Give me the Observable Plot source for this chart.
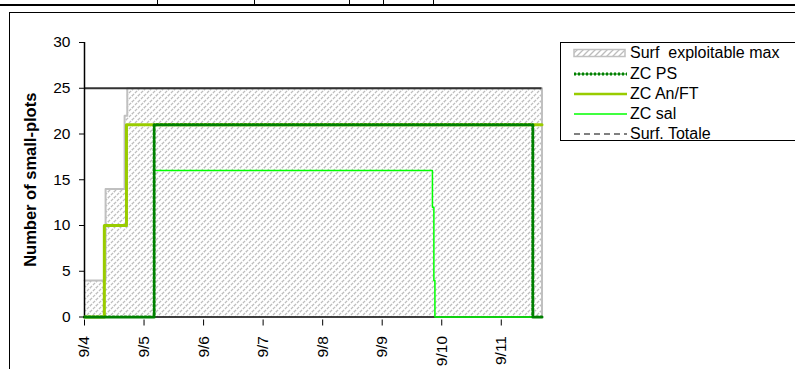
<!DOCTYPE html>
<html>
<head>
<meta charset="utf-8">
<script src="https://cdn.jsdelivr.net/npm/d3@7"></script>
<script src="https://cdn.jsdelivr.net/npm/@observablehq/plot@0.6"></script>
<style>
  html, body { margin: 0; padding: 0; background: #fff; overflow: hidden; }
  #wrap { position: relative; width: 795px; height: 369px; font-family: "Liberation Sans", Arial, sans-serif; }
  #chart { position: absolute; left: 0; top: 0; }
  .deco { position: absolute; background: #000; }
  #box { position: absolute; left: 9px; top: 12px; width: 800px; height: 400px; border-left: 1px solid #000; border-top: 1px solid #000; }
  #legend { position: absolute; left: 560px; top: 42px; width: 260px; height: 97px; border: 1px solid #000; background: #fff; }
  .row { position: absolute; left: 12px; height: 20px; display: flex; align-items: center; font-size: 16px; color: #000; white-space: pre; }
  .row svg { margin-right: 3px; }
</style>
</head>
<body>
<div id="wrap">
  <div class="deco" style="left:0;top:4px;width:795px;height:2px"></div>
  <div class="deco" style="left:157px;top:0;width:1px;height:5px"></div>
  <div class="deco" style="left:254px;top:0;width:1px;height:5px"></div>
  <div class="deco" style="left:349px;top:0;width:1px;height:5px"></div>
  <div class="deco" style="left:383px;top:0;width:1px;height:5px"></div>
  <div class="deco" style="left:433px;top:0;width:1px;height:5px"></div>
  <div id="box"></div>
  <div id="chart"></div>
  <div id="legend"></div>
</div>
<script>
// ---- data ----
const xStart = "2008-09-04T00:00";
const xEnd = "2008-09-11T16:25";
const tickDates = ["2008-09-04", "2008-09-05", "2008-09-06", "2008-09-07", "2008-09-08", "2008-09-09", "2008-09-10", "2008-09-11"];
const yTicks = [0, 5, 10, 15, 20, 25, 30];

const surfMaxTimes  = ["2008-09-04T00:00", "2008-09-04T08:30", "2008-09-04T16:10", "2008-09-04T17:15", "2008-09-11T16:25"];
const surfMaxValues = [4, 14, 22, 25, 25];

const psTimes  = ["2008-09-04T00:00", "2008-09-05T04:05", "2008-09-11T12:43", "2008-09-11T16:25"];
const psValues = [0, 21, 0, 0];

const anftTimes  = ["2008-09-04T00:00", "2008-09-04T08:00", "2008-09-04T16:55", "2008-09-11T16:25"];
const anftValues = [0, 10, 21, 21];

const salTimes  = ["2008-09-04T00:00", "2008-09-05T04:05", "2008-09-09T20:15", "2008-09-09T20:50", "2008-09-09T21:15", "2008-09-11T12:43"];
const salValues = [0, 16, 12, 4, 0, 0];

const surfTotale = 25;

const seriesNames = ["Surf  exploitable max", "ZC PS", "ZC An/FT", "ZC sal", "Surf. Totale"];
const yLabel = "Number of small-plots";

// ---- build ----
const parse = s => new Date(s + (s.length === 10 ? "T00:00Z" : ":00Z"));
const rows = (ts, vs) => ts.map((t, i) => ({t: parse(t), v: vs[i]}));

const surf = rows(surfMaxTimes, surfMaxValues);
const surfOutline = surf.concat([{t: parse(xEnd), v: 0}]);
const ps = rows(psTimes, psValues);
const anft = rows(anftTimes, anftValues);
const sal = rows(salTimes, salValues);

const chart = Plot.plot({
  width: 795,
  height: 369,
  marginLeft: 84,
  marginRight: 253.5,
  marginTop: 42,
  marginBottom: 52.5,
  style: {fontFamily: "'Liberation Sans', Arial, sans-serif", fontSize: "15.5px", color: "#000", background: "transparent", overflow: "visible"},
  x: {type: "utc", domain: [parse(xStart), parse(xEnd)]},
  y: {domain: [0, 30]},
  marks: [
    Plot.areaY(surf, {x: "t", y: "v", curve: "step-after", fill: "url(#hatch)"}),
    Plot.lineY(surfOutline, {x: "t", y: "v", curve: "step-after", stroke: "#c0c0c0", strokeWidth: 2}),
    Plot.ruleY([surfTotale], {stroke: "#333", strokeWidth: 2}),
    Plot.ruleY([0], {stroke: "#000", strokeWidth: 1.5}),
    Plot.ruleX([parse(xStart)], {y1: 0, y2: 30, stroke: "#000", strokeWidth: 1.5}),
    Plot.lineY(anft, {x: "t", y: "v", curve: "step-after", stroke: "#99cc00", strokeWidth: 3}),
    Plot.lineY(sal, {x: "t", y: "v", curve: "step-after", stroke: "#00ff00", strokeWidth: 1.5}),
    Plot.lineY(ps, {x: "t", y: "v", curve: "step-after", stroke: "#008000", strokeWidth: 1.2}),
    Plot.lineY(ps, {x: "t", y: "v", curve: "step-after", stroke: "#008000", strokeWidth: 3, strokeDasharray: "2,2"}),
    Plot.axisY({ticks: yTicks, tickSize: 5, tickPadding: 9, label: null, stroke: "#000"}),
    Plot.axisX({ticks: tickDates.map(parse), tickFormat: d3.utcFormat("%-m/%-d"), tickRotate: -90, tickSize: 6, tickPadding: 10, label: null, stroke: "#000", dy: 3}),
    Plot.text([yLabel], {text: d => d, frameAnchor: "left", textAnchor: "middle", dx: -54, dy: 0, rotate: -90, fontWeight: "bold", fontSize: 16.5})
  ]
});

// hatch pattern definition
const svgNS = "http://www.w3.org/2000/svg";
const defs = document.createElementNS(svgNS, "defs");
defs.innerHTML = `<pattern id="hatch" patternUnits="userSpaceOnUse" width="6" height="6">
  <rect width="6" height="6" fill="#fff"/>
  <path d="M-1,1 l2,-2 M0,6 l6,-6 M5,7 l2,-2" stroke="#bdbdbd" stroke-width="1.3" stroke-dasharray="3,1.2"/>
</pattern>`;
chart.insertBefore(defs, chart.firstChild);
document.getElementById("chart").appendChild(chart);

// legend
const legend = document.getElementById("legend");
const swatches = [
  `<svg width="54" height="10"><defs><pattern id="hatch2" patternUnits="userSpaceOnUse" width="6" height="6"><rect width="6" height="6" fill="#fff"/><path d="M-1,1 l2,-2 M0,6 l6,-6 M5,7 l2,-2" stroke="#bdbdbd" stroke-width="1.3"/></pattern></defs><rect x="1" y="1.5" width="51" height="7" fill="url(#hatch2)" stroke="#c0c0c0" stroke-width="1.5"/></svg>`,
  `<svg width="54" height="10"><line x1="1" x2="54" y1="5" y2="5" stroke="#008000" stroke-width="1.2"/><line x1="1" x2="54" y1="5" y2="5" stroke="#008000" stroke-width="3" stroke-dasharray="2,2"/></svg>`,
  `<svg width="54" height="10"><line x1="1" x2="54" y1="5" y2="5" stroke="#99cc00" stroke-width="2.5"/></svg>`,
  `<svg width="54" height="10"><line x1="1" x2="54" y1="5" y2="5" stroke="#00ff00" stroke-width="1.5"/></svg>`,
  `<svg width="54" height="10"><line x1="1" x2="54" y1="5" y2="5" stroke="#000" stroke-width="1" stroke-dasharray="6,4"/></svg>`
];
const rowTops = [0, 21, 41, 61, 81];
seriesNames.forEach((name, i) => {
  const r = document.createElement("div");
  r.className = "row";
  r.style.top = rowTops[i] + "px";
  r.innerHTML = swatches[i] + `<span>${name}</span>`;
  legend.appendChild(r);
});
</script>
</body>
</html>
